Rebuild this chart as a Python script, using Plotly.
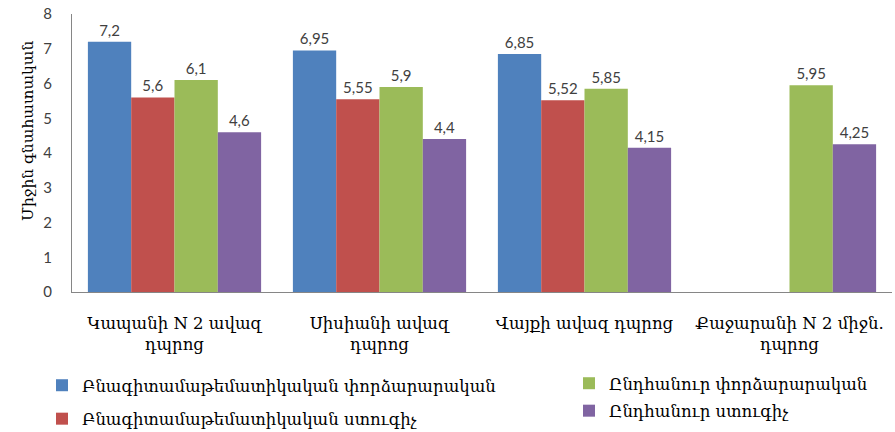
import plotly.graph_objects as go

categories = ["Կապանի N 2 ավազ<br>դպրոց", "Սիսիանի ավազ<br>դպրոց", "Վայքի ավազ դպրոց", "Քաջարանի N 2 միջն.<br>դպրոց"]
series_names = ["Բնագիտամաթեմատիկական փորձարարական", "Բնագիտամաթեմատիկական ստուգիչ",
                "Ընդհանուր փորձարարական", "Ընդհանուր ստուգիչ"]
blue_vals = [7.2, 6.95, 6.85, None]
red_vals = [5.6, 5.55, 5.52, None]
green_vals = [6.1, 5.9, 5.85, 5.95]
purple_vals = [4.6, 4.4, 4.15, 4.25]
colors = ["#4F81BD", "#C0504D", "#9BBB59", "#8064A2"]
y_ticks = [0, 1, 2, 3, 4, 5, 6, 7, 8]
y_title = "Միջին գնահատական"

ARM = "DejaVu Serif"
NUM = "Lato"

def fmt(v):
    if v is None:
        return ""
    return ("%g" % v).replace(".", ",")

fig = go.Figure()
all_vals = [blue_vals, red_vals, green_vals, purple_vals]
legends = ["legend", "legend", "legend2", "legend2"]
for i, (name, vals) in enumerate(zip(series_names, all_vals)):
    fig.add_trace(go.Bar(
        x=categories, y=vals, name=name,
        marker=dict(color=colors[i], line=dict(width=0)),
        text=[fmt(v) for v in vals], textposition="outside",
        textfont=dict(family=NUM, size=15, color="#404040"),
        cliponaxis=False,
        legend=legends[i], legendgroup=name,
    ))

L, R, T, B = 72, 3, 14, 140
W, H = 895, 432
pw, ph = W - L - R, H - T - B

def px_x(p):
    return (p - L) / pw

def px_y(p):
    return (H - B - p) / ph

fig.update_layout(
    width=W, height=H,
    margin=dict(l=L, r=R, t=T, b=B, autoexpand=False),
    paper_bgcolor="white", plot_bgcolor="white",
    barmode="group", bargap=0.155, bargroupgap=0,
    showlegend=True,
    legend=dict(x=px_x(42), y=px_y(368), xanchor="left", yanchor="top",
                font=dict(family=ARM, size=16.5, color="#000000"),
                tracegroupgap=9, itemwidth=30, bgcolor="rgba(0,0,0,0)"),
    legend2=dict(x=px_x(569), y=px_y(366), xanchor="left", yanchor="top",
                 font=dict(family=ARM, size=16.5, color="#000000"),
                 tracegroupgap=3, itemwidth=30, bgcolor="rgba(0,0,0,0)"),
    xaxis=dict(showline=True, linecolor="#868686", linewidth=1,
               tickfont=dict(family=ARM, size=16.5, color="#000000"),
               ticks="", showgrid=False, ticklabelstandoff=16),
    yaxis=dict(range=[0, 8], tickvals=y_ticks, showline=True, linecolor="#868686",
               linewidth=1, showgrid=False, zeroline=False, ticks="",
               ticklabelstandoff=16,
               tickfont=dict(family=NUM, size=15, color="#404040")),
    annotations=[dict(text=y_title, textangle=-90, xref="paper", yref="paper",
                      x=px_x(17), y=px_y(131), showarrow=False,
                      font=dict(family=ARM, size=15.5, color="#000000"))],
)

fig.write_html("out.html")
